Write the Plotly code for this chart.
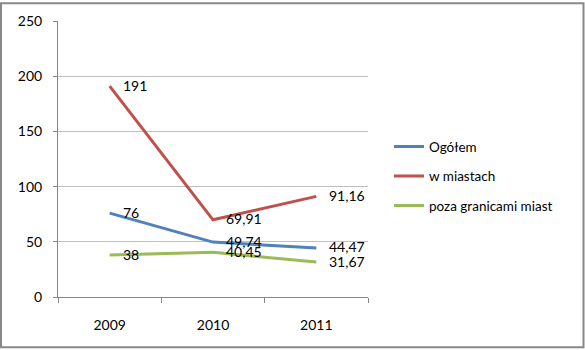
import plotly.graph_objects as go

years = ["2009", "2010", "2011"]
ogolem = [76, 49.74, 44.47]
w_miastach = [191, 69.91, 91.16]
poza_miastami = [38, 40.45, 31.67]

labels_ogolem = ["76", "49,74", "44,47"]
labels_miasta = ["191", "69,91", "91,16"]
labels_poza = ["38", "40,45", "31,67"]

font_family = "Lato, 'Open Sans', sans-serif"

series = [
    ("Ogółem", ogolem, labels_ogolem, "#4F81BD"),
    ("w miastach", w_miastach, labels_miasta, "#C0504D"),
    ("poza granicami miast", poza_miastami, labels_poza, "#9BBB59"),
]

fig = go.Figure()
annotations = []
for i, (name, vals, labs, color) in enumerate(series):
    fig.add_trace(go.Scatter(
        x=years, y=vals, name=name, mode="lines",
        line=dict(color=color, width=3),
        legendgroup=f"g{i}",
    ))
    # value labels to the right of each point (x given as category index)
    for k, (yv, lab) in enumerate(zip(vals, labs)):
        annotations.append(dict(
            x=k, y=yv, xref="x", yref="y", text=lab, showarrow=False,
            xanchor="left", yanchor="middle", xshift=11, yshift=1,
            font=dict(family=font_family, size=14, color="#000000"),
        ))

W, H = 585, 350
ml, mr, mt, mb = 58, 217, 19, 53
pw, ph = W - ml - mr, H - mt - mb

def px2x(p):
    return (p - ml) / pw

def py2y(p):
    return 1 - (p - mt) / ph

fig.update_layout(
    width=W, height=H,
    margin=dict(l=ml, r=mr, t=mt, b=mb),
    paper_bgcolor="white", plot_bgcolor="white",
    font=dict(family=font_family, size=14, color="#000000"),
    showlegend=True,
    legend=dict(
        x=px2x(389), y=py2y(130), xanchor="left", yanchor="top",
        font=dict(family=font_family, size=13.5),
        itemwidth=30, tracegroupgap=9, traceorder="grouped",
        bgcolor="rgba(0,0,0,0)",
    ),
    xaxis=dict(
        type="category", range=[-0.5, 2.5],
        showgrid=False, showline=True, linecolor="#868686", linewidth=1,
        ticks="outside", ticklen=5, tickcolor="#868686",
        tickson="boundaries", ticklabelstandoff=15,
        tickfont=dict(family=font_family, size=14),
    ),
    yaxis=dict(
        range=[0, 250], tickvals=[0, 50, 100, 150, 200, 250],
        showgrid=True, gridcolor="#BFBFBF", gridwidth=1,
        showline=True, linecolor="#868686", linewidth=1,
        ticks="outside", ticklen=4, tickcolor="#868686",
        ticklabelstandoff=8, zeroline=False,
        tickfont=dict(family=font_family, size=14),
    ),
    annotations=annotations,
    shapes=[dict(
        type="rect", xref="paper", yref="paper",
        x0=px2x(1), x1=px2x(583.5), y0=py2y(1), y1=py2y(347.5),
        line=dict(color="#888888", width=2), layer="below",
    )],
)

fig.write_html("out.html")
